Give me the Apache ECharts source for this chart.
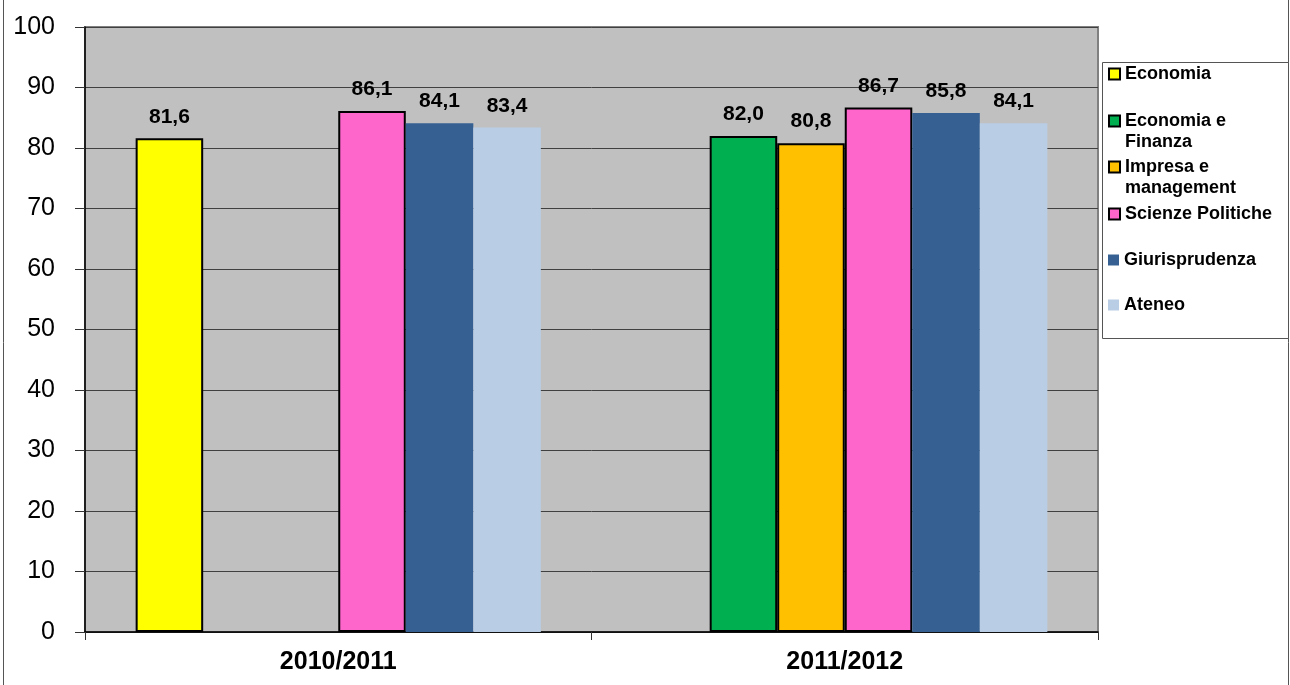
<!DOCTYPE html>
<html>
<head>
<meta charset="utf-8">
<script src="https://cdn.jsdelivr.net/npm/echarts@6/dist/echarts.min.js"></script>
<style>
html,body{margin:0;padding:0;background:#fff;}
#chart{width:1290px;height:685px;}
</style>
</head>
<body>
<div id="chart"></div>
<script>
const categories = ['2010/2011', '2011/2012'];
const seriesNames = ['Economia', 'Economia e Finanza', 'Impresa e management', 'Scienze Politiche', 'Giurisprudenza', 'Ateneo'];
const economia = [81.6, null];
const economiaFinanza = [null, 82.0];
const impresaManagement = [null, 80.8];
const scienzePolitiche = [86.1, 86.7];
const giurisprudenza = [84.1, 85.8];
const ateneo = [83.4, 84.1];
const yTicks = [0, 10, 20, 30, 40, 50, 60, 70, 80, 90, 100];

const FONT = "'Liberation Sans', Arial, sans-serif";
const colors = ['#FFFF00', '#00B050', '#FFC000', '#FF66CC', '#376092', '#B9CDE5'];
const bordered = [true, true, true, true, false, false];
const values = [economia, economiaFinanza, impresaManagement, scienzePolitiche, giurisprudenza, ateneo];
const legendLabels = {
  'Economia': 'Economia',
  'Economia e Finanza': '\nEconomia e\nFinanza',
  'Impresa e management': '\nImpresa e\nmanagement',
  'Scienze Politiche': 'Scienze Politiche',
  'Giurisprudenza': 'Giurisprudenza',
  'Ateneo': 'Ateneo'
};
const legendTops = [63.5, 89.5, 135.5, 203.5, 249.5, 294.5];

const series = seriesNames.map((name, i) => ({
  name: name,
  type: 'bar',
  data: values[i],
  barGap: '0%',
  barCategoryGap: '20%',
  itemStyle: {
    color: colors[i],
    borderColor: bordered[i] ? '#000' : colors[i],
    borderWidth: bordered[i] ? 2 : 0
  },
  label: {
    show: true,
    position: 'top',
    distance: 11,
    fontFamily: FONT,
    fontWeight: 'bold',
    fontSize: 21,
    color: '#000',
    formatter: p => p.value == null ? '' : p.value.toFixed(1).replace('.', ',')
  }
}));

const legends = seriesNames.map((name, i) => ({
  show: true,
  orient: 'vertical',
  left: 1108,
  top: legendTops[i],
  padding: 0,
  itemWidth: 11,
  itemHeight: 11,
  selectedMode: false,
  icon: 'rect',
  data: [name],
  formatter: n => legendLabels[n],
  textStyle: {
    fontFamily: FONT,
    fontWeight: 'bold',
    fontSize: 18,
    lineHeight: 21,
    color: '#000'
  }
}));

const chart = echarts.init(document.getElementById('chart'));
chart.setOption({
  animation: false,
  backgroundColor: '#fff',
  grid: {
    left: 85, right: 192, top: 27, bottom: 53,
    show: true,
    backgroundColor: '#C0C0C0',
    borderColor: '#808080',
    borderWidth: 2
  },
  graphic: [
    {type: 'rect', shape: {x: 3.5, y: -5, width: 1285, height: 700}, style: {fill: 'none', stroke: '#555', lineWidth: 1}, z: -1, silent: true},
    {type: 'rect', shape: {x: 1102.5, y: 62.5, width: 186, height: 276}, style: {fill: '#fff', stroke: '#555', lineWidth: 1}, z: -1, silent: true}
  ],
  legend: legends,
  xAxis: {
    type: 'category',
    data: categories,
    axisLine: {show: true, lineStyle: {color: '#000', width: 1.5}},
    axisTick: {show: true, length: 8, lineStyle: {color: '#333'}},
    axisLabel: {fontFamily: FONT, fontWeight: 'bold', fontSize: 25, color: '#000', margin: 18},
    splitLine: {show: false}
  },
  yAxis: {
    type: 'value',
    min: yTicks[0],
    max: yTicks[yTicks.length - 1],
    interval: yTicks[1] - yTicks[0],
    axisLine: {show: true, lineStyle: {color: '#000', width: 1.5}},
    axisTick: {show: true, length: 10, lineStyle: {color: '#333'}},
    axisLabel: {fontFamily: FONT, fontSize: 25, color: '#000', margin: 30},
    splitLine: {show: true, lineStyle: {color: '#404040', width: 1}}
  },
  series: series
});
</script>
</body>
</html>
